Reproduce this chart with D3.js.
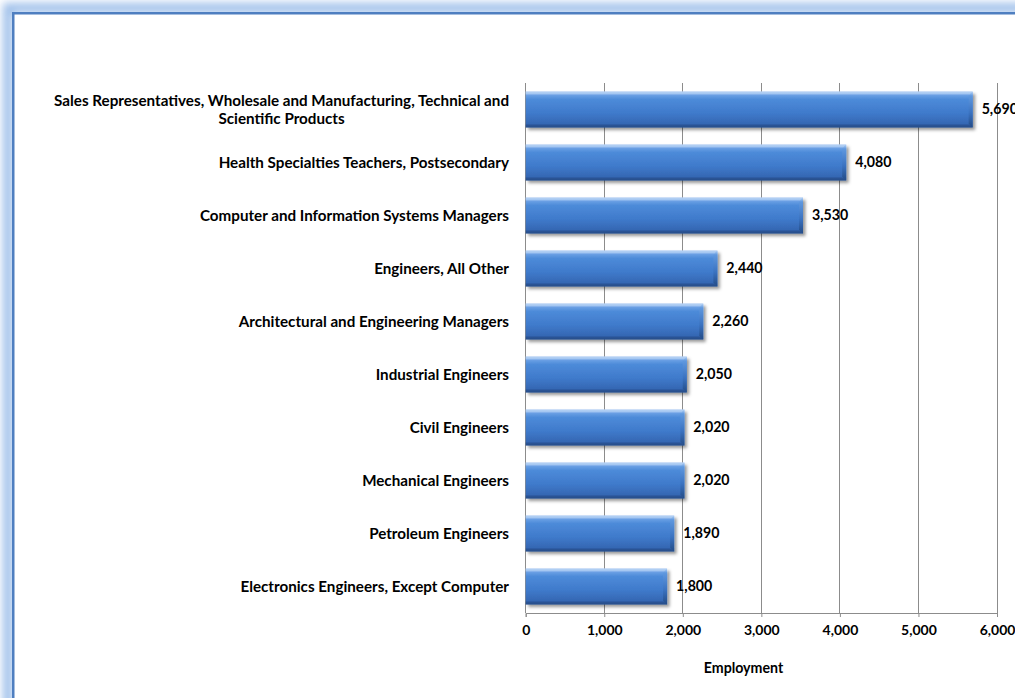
<!DOCTYPE html>
<html>
<head>
<meta charset="utf-8">
<script src="https://cdn.jsdelivr.net/npm/d3@7"></script>
<style>
  html, body { margin: 0; padding: 0; background: #fff; }
  svg { display: block; }
  text { font-family: Lato, "Open Sans", "Liberation Sans", sans-serif; font-weight: 700; fill: #000; }
</style>
</head>
<body>
<svg id="chart" width="1015" height="698"></svg>
<script>
// Occupations, ranked by employment
const occupations = [
  "Sales Representatives, Wholesale and Manufacturing, Technical and Scientific Products",
  "Health Specialties Teachers, Postsecondary",
  "Computer and Information Systems Managers",
  "Engineers, All Other",
  "Architectural and Engineering Managers",
  "Industrial Engineers",
  "Civil Engineers",
  "Mechanical Engineers",
  "Petroleum Engineers",
  "Electronics Engineers, Except Computer"
];
const employment = [5690, 4080, 3530, 2440, 2260, 2050, 2020, 2020, 1890, 1800];
const xTicks = [0, 1000, 2000, 3000, 4000, 5000, 6000];
const xTitle = "Employment";

const data = occupations.map((name, i) => ({ name, value: employment[i] }));

const svg = d3.select("#chart");
const W = 1015, H = 698;
const defs = svg.append("defs");

// ---- frame with soft blue glow ----
const glow = defs.append("filter").attr("id", "glow")
  .attr("x", "-5%").attr("y", "-5%").attr("width", "110%").attr("height", "110%");
glow.append("feGaussianBlur").attr("stdDeviation", 4);

svg.append("rect").attr("width", W).attr("height", H).attr("fill", "#fff");
svg.append("rect")
  .attr("x", 8).attr("y", 8).attr("width", W + 40).attr("height", H + 40)
  .attr("fill", "none").attr("stroke", "#9fc0ea").attr("stroke-width", 10)
  .attr("filter", "url(#glow)");
svg.append("rect")
  .attr("x", 13).attr("y", 13).attr("width", W + 40).attr("height", H + 40)
  .attr("fill", "#fff");
svg.append("rect")
  .attr("x", 13.25).attr("y", 13.25).attr("width", W + 40).attr("height", H + 40)
  .attr("fill", "none").attr("stroke", "#4f7fc0").attr("stroke-width", 2.5);

// ---- scales ----
const x = d3.scaleLinear().domain([0, 6000]).range([525.7, 997]);
const y = d3.scaleBand().domain(occupations).range([83, 613])
  .paddingInner(0.32).paddingOuter(0.16);

// ---- gridlines ----
svg.append("g")
  .selectAll("line").data(xTicks.slice(1)).join("line")
  .attr("x1", d => x(d)).attr("x2", d => x(d))
  .attr("y1", 83).attr("y2", 613)
  .attr("stroke", "#8c8c8c").attr("stroke-width", 1)
  .attr("shape-rendering", "crispEdges");

// ---- x axis ----
const xAxis = svg.append("g")
  .attr("transform", "translate(0,613)")
  .call(d3.axisBottom(x).tickValues(xTicks).tickFormat(d3.format(",")).tickSize(4).tickPadding(8));
xAxis.select(".domain").attr("stroke", "#8c8c8c");
xAxis.selectAll(".tick line").attr("stroke", "#8c8c8c");
xAxis.selectAll(".tick text").style("font-size", "14px").style("font-family", "Lato, sans-serif").attr("fill", "#000");

// left axis line
svg.append("line")
  .attr("x1", x(0)).attr("x2", x(0)).attr("y1", 83).attr("y2", 613)
  .attr("stroke", "#8c8c8c").attr("shape-rendering", "crispEdges");

// ---- bar styling ----
const grad = defs.append("linearGradient").attr("id", "barFill")
  .attr("x1", 0).attr("y1", 0).attr("x2", 0).attr("y2", 1);
[[0, "#a9c9f2"], [0.08, "#6fa3e6"], [0.22, "#4d8bd9"], [0.6, "#3f7acb"], [0.9, "#3567b3"], [1, "#2a5595"]]
  .forEach(([o, c]) => grad.append("stop").attr("offset", o).attr("stop-color", c));

const endGrad = defs.append("linearGradient").attr("id", "barEnd")
  .attr("x1", 0).attr("y1", 0).attr("x2", 0).attr("y2", 1);
[[0, "#b8d4f6"], [0.12, "#5f98df"], [0.6, "#3a72c0"], [1, "#234b85"]]
  .forEach(([o, c]) => endGrad.append("stop").attr("offset", o).attr("stop-color", c));

const shadow = defs.append("filter").attr("id", "shadow")
  .attr("x", "-5%").attr("y", "-20%").attr("width", "115%").attr("height", "150%");
shadow.append("feDropShadow").attr("dx", 2.5).attr("dy", 2.5).attr("stdDeviation", 1.6)
  .attr("flood-color", "#000").attr("flood-opacity", 0.4);

const bars = svg.append("g").selectAll("g").data(data).join("g");
bars.append("rect")
  .attr("x", x(0)).attr("y", d => y(d.name))
  .attr("width", d => x(d.value) - x(0)).attr("height", y.bandwidth())
  .attr("fill", "url(#barFill)").attr("filter", "url(#shadow)");
// bevelled right end
bars.append("path")
  .attr("d", d => {
    const x1 = x(d.value), y0 = y(d.name), h = y.bandwidth(), b = 4;
    return `M${x1 - b},${y0 + b} L${x1},${y0} L${x1},${y0 + h} L${x1 - b},${y0 + h - b} Z`;
  })
  .attr("fill", "url(#barEnd)");
// top bevel highlight
bars.append("path")
  .attr("d", d => {
    const x0 = x(0), x1 = x(d.value), y0 = y(d.name), b = 3;
    return `M${x0},${y0} L${x1},${y0} L${x1 - b},${y0 + b} L${x0},${y0 + b} Z`;
  })
  .attr("fill", "#c4dcf8").attr("opacity", 0.55);
// bottom bevel shade
bars.append("path")
  .attr("d", d => {
    const x0 = x(0), x1 = x(d.value), y1 = y(d.name) + y.bandwidth(), b = 3;
    return `M${x0},${y1} L${x1},${y1} L${x1 - b},${y1 - b} L${x0},${y1 - b} Z`;
  })
  .attr("fill", "#1d3f73").attr("opacity", 0.35);

// ---- value labels ----
svg.append("g").selectAll("text").data(data).join("text")
  .attr("x", d => x(d.value) + 9)
  .attr("y", d => y(d.name) + y.bandwidth() / 2)
  .attr("dy", "0.35em")
  .style("font-size", "14.2px")
  .text(d => d3.format(",")(d.value));

// ---- category labels (wrapped, right-aligned block, centered lines) ----
const catSize = 15.2, wrapWidth = 490, labelRight = 509, lineH = 18;
const measurer = svg.append("text").style("font-size", catSize + "px");
const measure = s => { measurer.text(s); return measurer.node().getComputedTextLength(); };
const catG = svg.append("g");
data.forEach(d => {
  const words = d.name.split(" ");
  const lines = [];
  let cur = "";
  words.forEach(w => {
    const t = cur ? cur + " " + w : w;
    if (cur && measure(t) > wrapWidth) { lines.push(cur); cur = w; } else cur = t;
  });
  lines.push(cur);
  const maxW = d3.max(lines, measure);
  const cx = labelRight - maxW / 2;
  const cy = y(d.name) + y.bandwidth() / 2;
  const t = catG.append("text")
    .attr("text-anchor", "middle")
    .style("font-size", catSize + "px");
  lines.forEach((ln, i) => {
    t.append("tspan")
      .attr("x", cx)
      .attr("y", cy + (i - (lines.length - 1) / 2) * lineH)
      .attr("dy", "0.35em")
      .text(ln);
  });
});
measurer.remove();

// ---- axis title ----
svg.append("text")
  .attr("x", 743.5).attr("y", 668).attr("dy", "0.35em")
  .attr("text-anchor", "middle")
  .style("font-size", "14.2px")
  .text(xTitle);
</script>
</body>
</html>
